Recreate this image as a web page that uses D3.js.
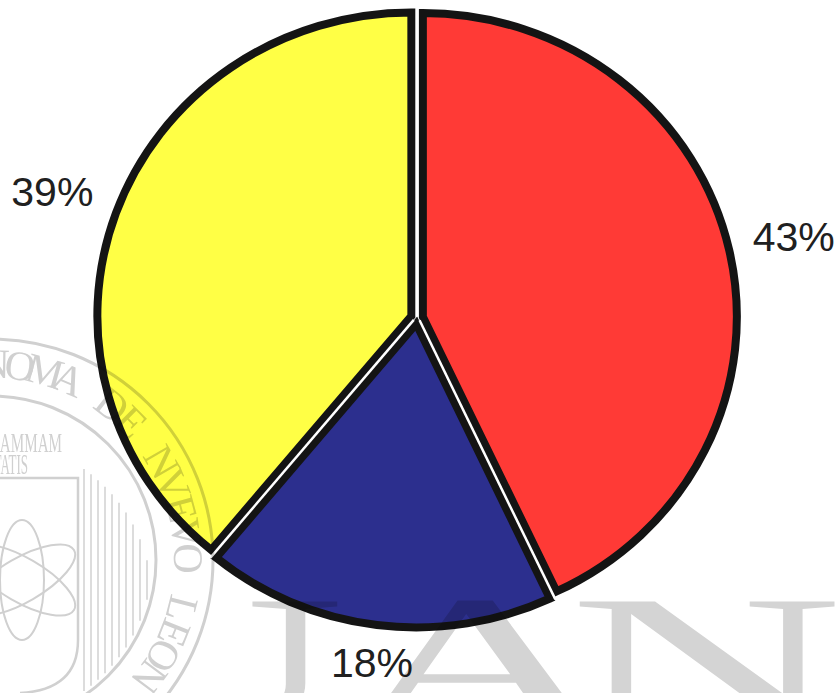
<!DOCTYPE html>
<html>
<head>
<meta charset="utf-8">
<script src="https://cdn.jsdelivr.net/npm/d3@7"></script>
<style>
  html, body { margin: 0; padding: 0; background: #ffffff; }
  svg { display: block; }
</style>
</head>
<body>
<svg id="chart" width="839" height="693"></svg>
<script>
// Share of each group, in percent, going clockwise from 12 o'clock
const shares = [43, 18, 39];
const shareLabels = ["43%", "18%", "39%"];
const sliceColors = ["#ff3a36", "#2c2f8e", "#ffff45"];

// Seal and lettering printed faintly over the page
const sealText = "AVTONOMA DE NVEVO LEON";
const bannerLetters = ["U", "A", "N"];

const W = 839, H = 693;
const svg = d3.select("#chart");

// ---------- pie ----------
const cx = 417, cy = 318;
const R = 314;
const yScale = 0.967;     // the printed pie is a touch wider than tall
const explode = 6;
const labelPad = 30;

const pie = d3.pie().sort(null).value(d => d).startAngle(0).endAngle(2 * Math.PI);
const arcs = pie(shares);
const arc = d3.arc().innerRadius(0).outerRadius(R);

const offsetOf = d => {
  const mid = (d.startAngle + d.endAngle) / 2;
  return [explode * Math.sin(mid), -explode * Math.cos(mid)];
};

const g = svg.append("g")
  .attr("transform", `translate(${cx},${cy}) scale(1,${yScale})`);

g.selectAll("path.slice").data(arcs).join("path")
  .attr("class", "slice")
  .attr("d", arc)
  .attr("fill", (d, i) => sliceColors[i])
  .attr("stroke", "#141414")
  .attr("stroke-width", 8)
  .attr("stroke-linejoin", "miter")
  .attr("stroke-miterlimit", 6)
  .attr("vector-effect", "non-scaling-stroke")
  .attr("transform", d => `translate(${offsetOf(d)})`);

// thin white seams between neighbouring slices
const seams = arcs.map((d, i) => {
  const next = arcs[(i + 1) % arcs.length];
  const a = d.endAngle;
  const o1 = offsetOf(d), o2 = offsetOf(next);
  const ox = (o1[0] + o2[0]) / 2, oy = (o1[1] + o2[1]) / 2;
  return { x1: ox, y1: oy, x2: ox + (R + 5) * Math.sin(a), y2: oy - (R + 5) * Math.cos(a) };
});
g.selectAll("line.seam").data(seams).join("line")
  .attr("class", "seam")
  .attr("x1", d => d.x1).attr("y1", d => d.y1)
  .attr("x2", d => d.x2).attr("y2", d => d.y2)
  .attr("stroke", "#ffffff")
  .attr("stroke-width", 2.5)
  .attr("stroke-linecap", "butt")
  .attr("vector-effect", "non-scaling-stroke");

// percentage labels just outside each slice, pushed out by their own box size
const fontSize = 41;
const labels = svg.append("g")
  .attr("font-family", "'Liberation Sans', Arial, sans-serif")
  .attr("font-size", fontSize)
  .attr("fill", "#202020");
labels.selectAll("text").data(arcs).join("text")
  .attr("text-anchor", "middle")
  .attr("dy", "0.36em")
  .text((d, i) => shareLabels[i])
  .each(function (d) {
    const mid = (d.startAngle + d.endAngle) / 2;
    const sx = Math.sin(mid), sy = -Math.cos(mid);
    const bb = this.getBBox();
    const hw = bb.width / 2, hh = fontSize * 0.36;
    const t = Math.min(hw / Math.max(Math.abs(sx), 1e-6), hh / Math.max(Math.abs(sy), 1e-6));
    const dist = R + labelPad + t;
    d3.select(this)
      .attr("x", cx + dist * sx)
      .attr("y", cy + dist * sy * yScale);
  });

// ---------- faint seal, multiplied over everything ----------
const wmGray = "#d0d0d0";
const wm = svg.append("g").style("mix-blend-mode", "multiply");
const serif = "'Liberation Serif', 'DejaVu Serif', serif";

// large stretched lettering along the bottom
const bannerX = [208, 478, 706];
wm.selectAll("text.banner").data(bannerLetters).join("text")
  .attr("class", "banner")
  .attr("text-anchor", "middle")
  .attr("font-family", serif)
  .attr("font-size", 190)
  .attr("fill", "#d4d4d4")
  .attr("transform", (d, i) => `translate(${bannerX[i]},726) scale(2,1)`)
  .text(d => d);

const sc = { x: -8, y: 560 };
// seal disc sits over the lettering
wm.append("circle").attr("cx", sc.x).attr("cy", sc.y).attr("r", 222)
  .attr("fill", "#ffffff");

const ring = wm.append("g").attr("fill", "none").attr("stroke", wmGray);
ring.append("circle").attr("cx", sc.x).attr("cy", sc.y).attr("r", 221).attr("stroke-width", 3);
ring.append("circle").attr("cx", sc.x).attr("cy", sc.y).attr("r", 164).attr("stroke-width", 3);

// columns inside the seal
const colX = d3.range(84, 152, 7);
ring.selectAll("line.col").data(colX).join("line")
  .attr("x1", d => d).attr("x2", d => d)
  .attr("y1", d => sc.y - Math.sqrt(Math.max(0, 160 * 160 - (d - sc.x) ** 2)) + 40)
  .attr("y2", d => sc.y + Math.sqrt(Math.max(0, 160 * 160 - (d - sc.x) ** 2)))
  .attr("stroke-width", 1.5);

// shield and atom
ring.append("path")
  .attr("d", "M0,478 L78,478 L78,640 Q78,690 20,693")
  .attr("stroke-width", 2.5);
[-30, 30, 90].forEach(rot => {
  ring.append("ellipse")
    .attr("cx", 22).attr("cy", 580).attr("rx", 60).attr("ry", 22)
    .attr("transform", `rotate(${rot},22,580)`)
    .attr("stroke-width", 2);
});

const wmText = wm.append("g").attr("fill", wmGray).attr("font-family", serif);
wmText.append("text").attr("text-anchor", "end").attr("font-size", 27)
  .attr("transform", "translate(62,452) scale(0.56,1)").text("FLAMMAM");
wmText.append("text").attr("text-anchor", "end").attr("font-size", 29)
  .attr("transform", "translate(28,474) scale(0.45,1)").text("VERITATIS");

// ring lettering, one glyph per step around the seal
const stepDeg = 7.4;
const firstDeg = -81.8 - 5 * stepDeg;
const ringR = 182;
wmText.selectAll("text.ring").data(sealText.split("")).join("text")
  .attr("class", "ring")
  .attr("font-size", 42)
  .attr("text-anchor", "middle")
  .attr("transform", (c, i) => {
    const a = (firstDeg + i * stepDeg) * Math.PI / 180;
    const x = sc.x + ringR * Math.cos(a);
    const y = sc.y + ringR * Math.sin(a);
    return `translate(${x},${y}) rotate(${a * 180 / Math.PI + 90})`;
  })
  .text(c => c);
</script>
</body>
</html>
